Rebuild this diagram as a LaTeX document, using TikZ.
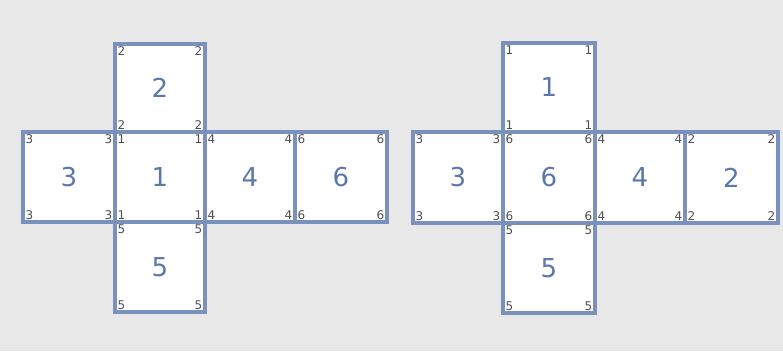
\documentclass[tikz,border=0pt]{standalone}
\usepackage{fontspec}
\setmainfont{DejaVu Sans}
\definecolor{bg}{HTML}{E8E8E8}
\definecolor{edgeblue}{HTML}{7A90BD}
\definecolor{numblue}{HTML}{5B77AC}
\definecolor{cornergray}{HTML}{505050}
\tikzset{
  facebox/.style={fill=white,draw=edgeblue,line width=3.4pt},
  bignum/.style={text=numblue,font=\fontsize{26}{28}\selectfont,inner sep=0pt},
  cornernum/.style={text=cornergray,font=\fontsize{12}{13}\selectfont,inner sep=0pt},
}
% name, x0, y0, x1, y1 (pixels, origin top-left), number, corner label
\newcommand\netface[7]{%
  \draw[facebox] (#2,-#3) rectangle (#4,-#5);
}
\newcommand\netlabels[7]{%
  \node[bignum] (#1) at ({(#2+#4)/2},{-(#3+#5)/2}) {#6};
  \node[cornernum,anchor=north west] (#1-nw) at (#2+2.5,-#3-2.5) {#7};
  \node[cornernum,anchor=north east] (#1-ne) at (#4-2.5,-#3-2.5) {#7};
  \node[cornernum,anchor=south west] (#1-sw) at (#2+2.5,-#5+2.5) {#7};
  \node[cornernum,anchor=south east] (#1-se) at (#4-2.5,-#5+2.5) {#7};
}
\begin{document}
\begin{tikzpicture}[x=1pt,y=1pt]
\fill[bg] (0,0) rectangle (783,-351);
\useasboundingbox (0,0) rectangle (783,-351);
% left net
\netface{La}{115}{44}{205}{132}{2}{2}
\netface{Lb}{23}{132}{115}{222}{3}{3}
\netface{Lc}{115}{132}{205}{222}{1}{1}
\netface{Ld}{205}{132}{295}{222}{4}{4}
\netface{Le}{295}{132}{387}{222}{6}{6}
\netface{Lf}{115}{222}{205}{312}{5}{5}
% right net
\netface{Ra}{503}{43}{595}{132}{1}{1}
\netface{Rb}{413}{132}{503}{223}{3}{3}
\netface{Rc}{503}{132}{595}{223}{6}{6}
\netface{Rd}{595}{132}{685}{223}{4}{4}
\netface{Re}{685}{132}{778}{223}{2}{2}
\netface{Rf}{503}{223}{595}{313}{5}{5}
% labels
\netlabels{La}{115}{44}{205}{132}{2}{2}
\netlabels{Lb}{23}{132}{115}{222}{3}{3}
\netlabels{Lc}{115}{132}{205}{222}{1}{1}
\netlabels{Ld}{205}{132}{295}{222}{4}{4}
\netlabels{Le}{295}{132}{387}{222}{6}{6}
\netlabels{Lf}{115}{222}{205}{312}{5}{5}
\netlabels{Ra}{503}{43}{595}{132}{1}{1}
\netlabels{Rb}{413}{132}{503}{223}{3}{3}
\netlabels{Rc}{503}{132}{595}{223}{6}{6}
\netlabels{Rd}{595}{132}{685}{223}{4}{4}
\netlabels{Re}{685}{132}{778}{223}{2}{2}
\netlabels{Rf}{503}{223}{595}{313}{5}{5}
\end{tikzpicture}
\end{document}
